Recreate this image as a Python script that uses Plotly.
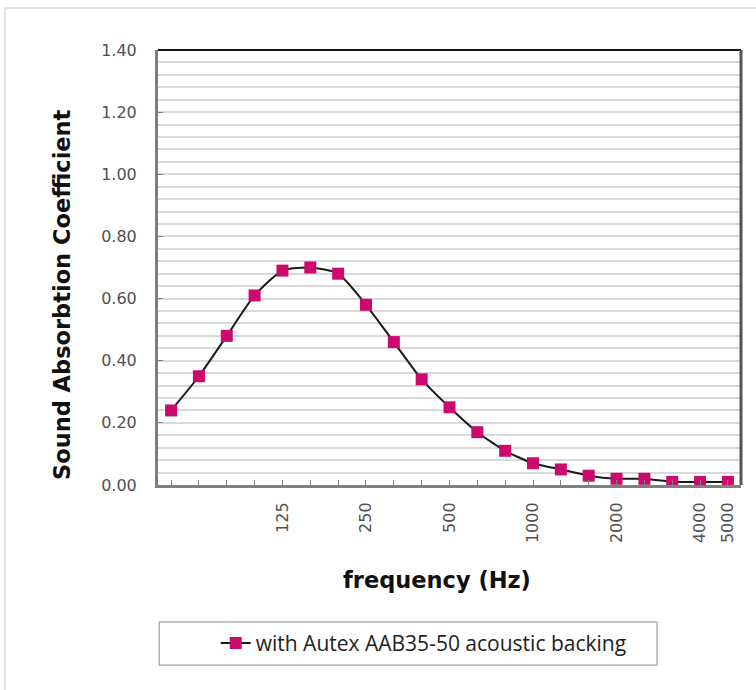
import plotly.graph_objects as go

frequencies = ["50", "63", "80", "100", "125", "160", "200", "250", "315", "400", "500",
               "630", "800", "1000", "1250", "1600", "2000", "2500", "3150", "4000", "5000"]
absorption = [0.24, 0.35, 0.48, 0.61, 0.69, 0.70, 0.68, 0.58, 0.46, 0.34, 0.25,
              0.17, 0.11, 0.07, 0.05, 0.03, 0.02, 0.02, 0.01, 0.01, 0.01]
labelled_ticks = ["125", "250", "500", "1000", "2000", "4000", "5000"]
y_ticks = [0.0, 0.2, 0.4, 0.6, 0.8, 1.0, 1.2, 1.4]
series_name = "with Autex AAB35-50 acoustic backing"
x_title = "frequency (Hz)"
y_title = "Sound Absorbtion Coefficient"

tick_text = [f if f in labelled_ticks else "" for f in frequencies]

fig = go.Figure()
fig.add_trace(go.Scatter(
    x=frequencies, y=absorption, mode="lines+markers", name=series_name,
    line=dict(color="#1a1a1a", width=2, shape="spline", smoothing=0.6),
    marker=dict(symbol="square", size=12, color="#cc0a6e"),
))

fig.update_layout(
    width=756, height=690,
    margin=dict(l=158, r=15, t=50, b=205),
    paper_bgcolor="white", plot_bgcolor="white",
    showlegend=True,
    legend=dict(orientation="h", x=0.099, xanchor="left", y=-0.364, yanchor="middle",
                font=dict(family="Open Sans", size=21, color="#222222"),
                bgcolor="rgba(0,0,0,0)", borderwidth=0),
    xaxis=dict(
        type="category", range=[-0.47, 20.47],
        tickmode="array", tickvals=frequencies, ticktext=tick_text,
        tickangle=-90, ticks="inside", ticklen=5, tickcolor="#7f7f7f", tickwidth=1,
        tickfont=dict(family="DejaVu Sans", size=16, color="#505050"),
        ticklabelstandoff=8,
        showgrid=False, showline=True, linecolor="#7f7f7f", linewidth=3,
        zeroline=False,
    ),
    yaxis=dict(
        range=[0, 1.4], tickmode="array", tickvals=y_ticks,
        ticktext=[f"{v:.2f}" for v in y_ticks],
        ticks="inside", ticklen=5, tickcolor="#7f7f7f", tickwidth=1,
        tickfont=dict(family="DejaVu Sans", size=16, color="#505050"),
        ticklabelstandoff=15,
        showgrid=True, gridcolor="#d9d9d9", gridwidth=1.5,
        minor=dict(dtick=0.04, tick0=0, showgrid=True, gridcolor="#d9d9d9", gridwidth=1.5),
        showline=True, linecolor="#7f7f7f", linewidth=3, zeroline=False,
    ),
    annotations=[
        dict(text=x_title, xref="paper", yref="paper", x=0.4786, y=-0.2184,
             xanchor="center", yanchor="middle", showarrow=False,
             font=dict(family="DejaVu Sans", size=22.5, color="#111111", weight="bold")),
        dict(text=y_title, xref="paper", yref="paper", x=-0.1647, y=0.439,
             xanchor="center", yanchor="middle", showarrow=False, textangle=-90,
             font=dict(family="DejaVu Sans", size=22.5, color="#111111", weight="bold")),
    ],
)

# plot frame: top and right dark lines
fig.add_shape(type="line", xref="paper", yref="paper", x0=0, x1=1, y0=1, y1=1,
              line=dict(color="#111111", width=2))
fig.add_shape(type="line", xref="paper", yref="paper", x0=1, x1=1, y0=0, y1=1,
              line=dict(color="#555555", width=3))
# legend box
fig.add_shape(type="rect", xref="paper", yref="paper", x0=0.002, x1=0.856, y0=-0.414, y1=-0.315,
              line=dict(color="#8c8c8c", width=1))
# outer chart border (left and top)
fig.add_shape(type="line", xref="paper", yref="paper", x0=-0.2624, x1=1.05, y0=1.0966, y1=1.0966,
              line=dict(color="#e3e3e3", width=2))
fig.add_shape(type="line", xref="paper", yref="paper", x0=-0.2624, x1=-0.2624, y0=-0.5, y1=1.0966,
              line=dict(color="#e3e3e3", width=2))

fig.write_html("out.html", config={"displayModeBar": False},
               post_script="document.body.style.margin='0';")
